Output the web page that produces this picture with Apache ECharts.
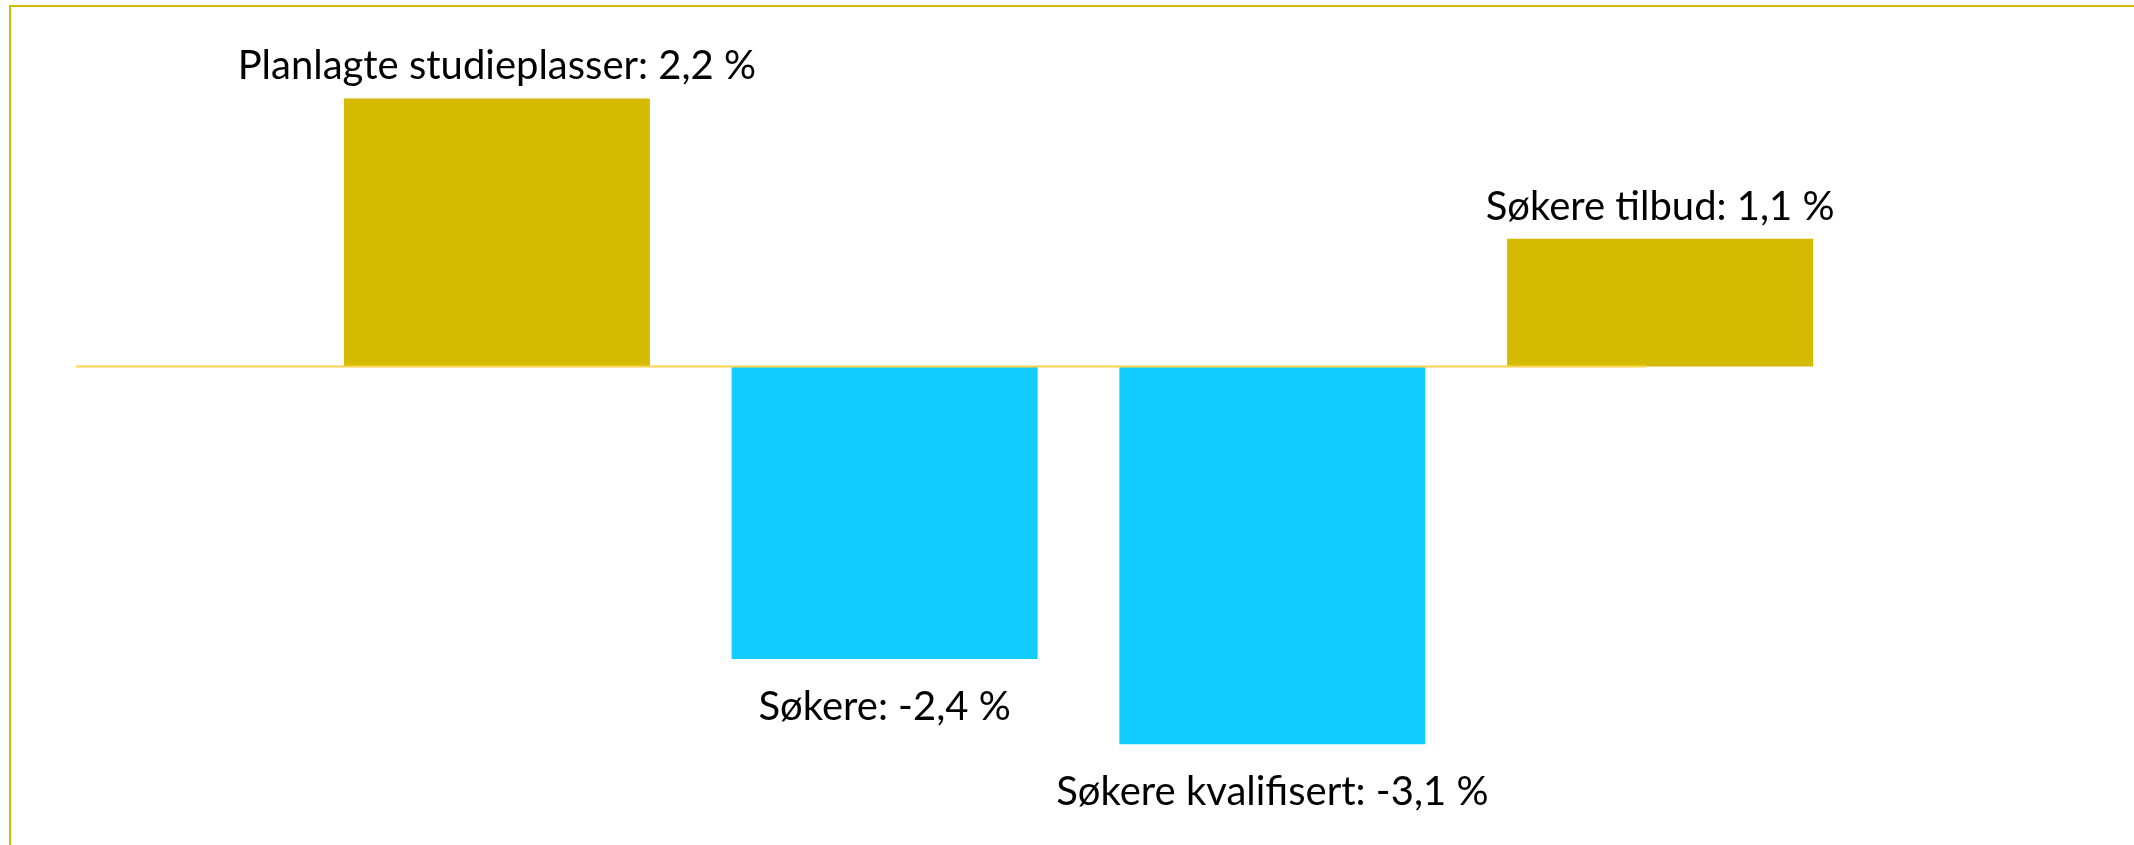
<!DOCTYPE html>
<html>
<head>
<meta charset="utf-8">
<script src="https://cdn.jsdelivr.net/npm/echarts@6/dist/echarts.min.js"></script>
<style>
  html, body { margin: 0; padding: 0; background: #fff; }
  #chart { width: 2134px; height: 845px; }
</style>
</head>
<body>
<div id="chart"></div>
<script>
// Data
const categories = ['Planlagte studieplasser', 'Søkere', 'Søkere kvalifisert', 'Søkere tilbud'];
const values = [2.2, -2.4, -3.1, 1.05];
const barColors = ['#D4BA00', '#12CDFF', '#12CDFF', '#D4BA00'];

function fmt(v) {
  return (Math.round(v * 10) / 10).toFixed(1).replace('.', ',');
}

const chart = echarts.init(document.getElementById('chart'), null, { renderer: 'canvas' });

const FONT = 'Lato, "Open Sans", sans-serif';

chart.setOption({
  animation: false,
  backgroundColor: '#ffffff',
  grid: { left: 303, right: 280, top: 62, height: 731 },
  xAxis: {
    type: 'category',
    data: categories,
    show: false
  },
  yAxis: {
    type: 'value',
    min: -3.5,
    max: 2.5,
    show: false,
    splitLine: { show: false }
  },
  series: [{
    type: 'bar',
    barWidth: 306,
    data: values.map((v, i) => ({
      value: v,
      itemStyle: { color: barColors[i] },
      label: {
        show: true,
        position: v >= 0 ? 'top' : 'bottom',
        distance: v >= 0 ? 12 : 28,
        formatter: categories[i] + ': ' + fmt(v) + ' %',
        color: '#000000',
        fontFamily: FONT,
        fontSize: 40
      }
    }))
  }]
});

function drawExtras() {
  const y0 = chart.convertToPixel({ yAxisIndex: 0 }, 0);
  chart.setOption({
    graphic: [
      {
        type: 'rect',
        shape: { x: 10, y: 6, width: 2300, height: 1000 },
        style: { fill: 'none', stroke: '#D4BA00', lineWidth: 2 },
        silent: true
      },
      {
        type: 'line',
        shape: { x1: 76, y1: y0, x2: 1646, y2: y0 },
        style: { stroke: '#FFD34D', lineWidth: 2 },
        z: 10,
        silent: true
      }
    ]
  });
}
drawExtras();
</script>
</body>
</html>
